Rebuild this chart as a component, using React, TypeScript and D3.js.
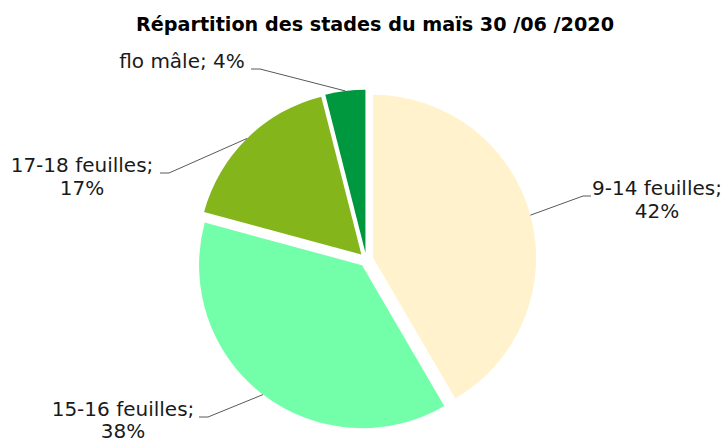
import React from "react";
import * as d3 from "d3";

const categories = ["9-14 feuilles", "15-16 feuilles", "17-18 feuilles", "flo mâle"];
const values = [42, 38, 17, 4];
const percentLabels = ["42%", "38%", "17%", "4%"];
const colors = ["#FFF2CC", "#73FFAA", "#84B61B", "#00983F"];
const title = "Répartition des stades du maïs 30 /06 /2020";

const W = 727;
const H = 443;
const cx = 366.3;
const cy = 259.6;
const R = 163;
const EXPLODE = 7;
const FONT = "'DejaVu Sans', Verdana, sans-serif";
const LABEL_SIZE = 20;

const labelLayout = [
  { x: 657, y: 195, lines: 2, elbowX: 583, side: "right", gap: 23 },
  { x: 123, y: 416, lines: 2, elbowX: 208, side: "left", gap: 22 },
  { x: 82, y: 172, lines: 2, elbowX: 169, side: "left", gap: 23 },
  { x: 182, y: 68, lines: 1, elbowX: 260, side: "left", gap: 23 },
];

export default function App() {
  const pie = d3.pie<number>().sort(null).startAngle(0).endAngle(2 * Math.PI);
  const arcs = pie(values);
  const arc = d3.arc<d3.PieArcDatum<number>>().innerRadius(0).outerRadius(R);

  return (
    <svg width={W} height={H} style={{ position: "absolute", left: 0, top: 0, background: "#fff" }}>
      <text x={375} y={31} textAnchor="middle" fontFamily={FONT} fontWeight="bold" fontSize={19.2} fill="#000">
        {title}
      </text>
      {arcs.map((a, i) => {
        const mid = (a.startAngle + a.endAngle) / 2;
        const dx = Math.sin(mid) * EXPLODE;
        const dy = -Math.cos(mid) * EXPLODE;
        return (
          <path key={i} d={arc(a) || ""} fill={colors[i]} transform={`translate(${cx + dx},${cy + dy})`} />
        );
      })}
      {arcs.map((a, i) => {
        const mid = (a.startAngle + a.endAngle) / 2;
        const ex = cx + Math.sin(mid) * (EXPLODE + R);
        const ey = cy - Math.cos(mid) * (EXPLODE + R);
        const L = labelLayout[i];
        const lineY = L.y + 1;
        const textEdge = L.side === "right" ? L.elbowX + 8 : L.elbowX - 9;
        const first = L.lines === 2 ? `${categories[i]};` : `${categories[i]}; ${percentLabels[i]}`;
        return (
          <g key={i}>
            <polyline
              points={`${ex},${ey} ${L.elbowX},${lineY} ${textEdge},${lineY}`}
              fill="none"
              stroke="#595959"
              strokeWidth={1}
            />
            <text x={L.x} y={L.y} textAnchor="middle" fontFamily={FONT} fontSize={LABEL_SIZE} fill="#1a1a1a">
              {first}
            </text>
            {L.lines === 2 && (
              <text x={L.x} y={L.y + L.gap} textAnchor="middle" fontFamily={FONT} fontSize={LABEL_SIZE} fill="#1a1a1a">
                {percentLabels[i]}
              </text>
            )}
          </g>
        );
      })}
    </svg>
  );
}
